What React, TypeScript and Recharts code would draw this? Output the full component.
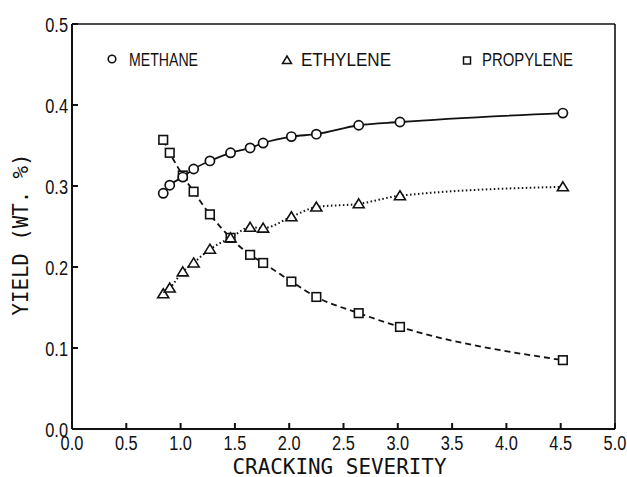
import React from "react";
import { Label, Line, LineChart, ReferenceLine, XAxis, YAxis } from "recharts";

// cracking severity of each run
const SEVERITY = [0.84, 0.9, 1.02, 1.12, 1.27, 1.46, 1.64, 1.76, 2.02, 2.25, 2.64, 3.02, 4.52];
// yields, wt. fraction
const METHANE = [0.291, 0.301, 0.311, 0.321, 0.331, 0.341, 0.347, 0.353, 0.361, 0.364, 0.375, 0.379, 0.39];
const ETHYLENE = [0.167, 0.174, 0.194, 0.205, 0.222, 0.236, 0.249, 0.248, 0.262, 0.274, 0.278, 0.288, 0.299];
const PROPYLENE = [0.357, 0.341, 0.313, 0.293, 0.265, 0.236, 0.215, 0.205, 0.182, 0.163, 0.143, 0.126, 0.085];

const X_TICKS = [0, 0.5, 1, 1.5, 2, 2.5, 3, 3.5, 4, 4.5, 5];
const Y_TICKS = [0, 0.1, 0.2, 0.3, 0.4, 0.5];

// no narrow font installed, so text gets squeezed with scale() / textLength
const SANS = '"Liberation Sans", Arial, sans-serif';
const MONO = '"DejaVu Sans Mono", "Liberation Mono", monospace';
const SQUEEZE = 0.78;
const INK = "#111";
const W = 627;
const H = 477;

const data = SEVERITY.map((x, i) => ({
  x,
  methane: METHANE[i],
  ethylene: ETHYLENE[i],
  propylene: PROPYLENE[i],
}));

const CircleDot = (props: any) => {
  const { cx, cy, index } = props;
  if (cx == null || cy == null) return null;
  return <circle key={`m-${index}`} cx={cx} cy={cy} r={4.6} fill="#fff" stroke={INK} strokeWidth={1.7} />;
};

const TriangleDot = (props: any) => {
  const { cx, cy, index } = props;
  if (cx == null || cy == null) return null;
  return (
    <path
      key={`e-${index}`}
      d={`M${cx},${cy - 5} L${cx + 5.5},${cy + 4} L${cx - 5.5},${cy + 4} Z`}
      fill="#fff"
      stroke={INK}
      strokeWidth={1.6}
    />
  );
};

const SquareDot = (props: any) => {
  const { cx, cy, index } = props;
  if (cx == null || cy == null) return null;
  return <rect key={`p-${index}`} x={cx - 4.3} y={cy - 4.3} width={8.6} height={8.6} fill="#fff" stroke={INK} strokeWidth={1.6} />;
};

const XTick = (props: any) => {
  const { x, y, payload } = props;
  return (
    <text
      transform={`translate(${x},${y + 15}) scale(${SQUEEZE},1)`}
      textAnchor="middle"
      fontFamily={SANS}
      fontSize={21}
      fill={INK}
    >
      {Number(payload.value).toFixed(1)}
    </text>
  );
};

const YTick = (props: any) => {
  const { x, y, payload } = props;
  return (
    <text
      transform={`translate(${x},${y + 7.5}) scale(${SQUEEZE},1)`}
      textAnchor="end"
      fontFamily={SANS}
      fontSize={21}
      fill={INK}
    >
      {Number(payload.value).toFixed(1)}
    </text>
  );
};

const XTitle = (props: any) => {
  const vb = props.viewBox;
  return (
    <text
      x={vb.x + vb.width / 2 - 4}
      y={vb.y + 45}
      textAnchor="middle"
      fontFamily={MONO}
      fontSize={21}
      textLength={214}
      lengthAdjust="spacingAndGlyphs"
      fill={INK}
    >
      CRACKING SEVERITY
    </text>
  );
};

const YTitle = (props: any) => {
  const vb = props.viewBox;
  return (
    <text
      transform={`translate(${vb.x - 4},${vb.y + vb.height / 2 + 8}) rotate(-90)`}
      textAnchor="middle"
      fontFamily={MONO}
      fontSize={21}
      textLength={162}
      lengthAdjust="spacingAndGlyphs"
      fill={INK}
    >
      YIELD (WT. %)
    </text>
  );
};

const legendLabel = (x: number, width: number, text: string) => (
  <text x={x} y={66} fontFamily={SANS} fontSize={18} textLength={width} lengthAdjust="spacingAndGlyphs" fill={INK}>
    {text}
  </text>
);

export default function App() {
  return (
    <div style={{ position: "relative", width: W, height: H, overflow: "hidden" }}>
      {/* drop the default body margin so the chart fills the window exactly */}
      <style>{"html,body{margin:0;padding:0;overflow:hidden}"}</style>
      <LineChart width={W} height={H} data={data} margin={{ top: 24, right: 12, left: 32, bottom: 0 }}>
        <XAxis
          dataKey="x"
          type="number"
          domain={[0, 5]}
          ticks={X_TICKS}
          height={48}
          tickSize={-6}
          tickMargin={12}
          stroke={INK}
          strokeWidth={2}
          tick={XTick}
        >
          <Label content={XTitle} />
        </XAxis>
        <YAxis
          type="number"
          domain={[0, 0.5]}
          ticks={Y_TICKS}
          width={40}
          tickSize={-6}
          tickMargin={10}
          stroke={INK}
          strokeWidth={2}
          tick={YTick}
        >
          <Label content={YTitle} />
        </YAxis>
        <ReferenceLine y={0.5} stroke={INK} strokeWidth={1.6} />
        <ReferenceLine x={5} stroke={INK} strokeWidth={1.6} />
        <Line
          type="monotone"
          dataKey="propylene"
          stroke={INK}
          strokeWidth={1.8}
          strokeDasharray="6 4"
          dot={SquareDot}
          activeDot={false}
          isAnimationActive={false}
        />
        <Line
          type="monotone"
          dataKey="ethylene"
          stroke={INK}
          strokeWidth={2}
          strokeDasharray="1.5 2.5"
          dot={TriangleDot}
          activeDot={false}
          isAnimationActive={false}
        />
        <Line
          type="monotone"
          dataKey="methane"
          stroke={INK}
          strokeWidth={1.8}
          dot={CircleDot}
          activeDot={false}
          isAnimationActive={false}
        />
      </LineChart>
      <svg width={W} height={H} style={{ position: "absolute", left: 0, top: 0, pointerEvents: "none" }}>
        <circle cx={112} cy={59} r={3.8} fill="#fff" stroke={INK} strokeWidth={1.6} />
        {legendLabel(129, 69, "METHANE")}
        <path d="M287,56 L291.5,63.5 L282.5,63.5 Z" fill="#fff" stroke={INK} strokeWidth={1.5} />
        {legendLabel(301, 90, "ETHYLENE")}
        <rect x={463.5} y={57} width={7} height={7} fill="#fff" stroke={INK} strokeWidth={1.5} />
        {legendLabel(482, 91, "PROPYLENE")}
      </svg>
    </div>
  );
}
